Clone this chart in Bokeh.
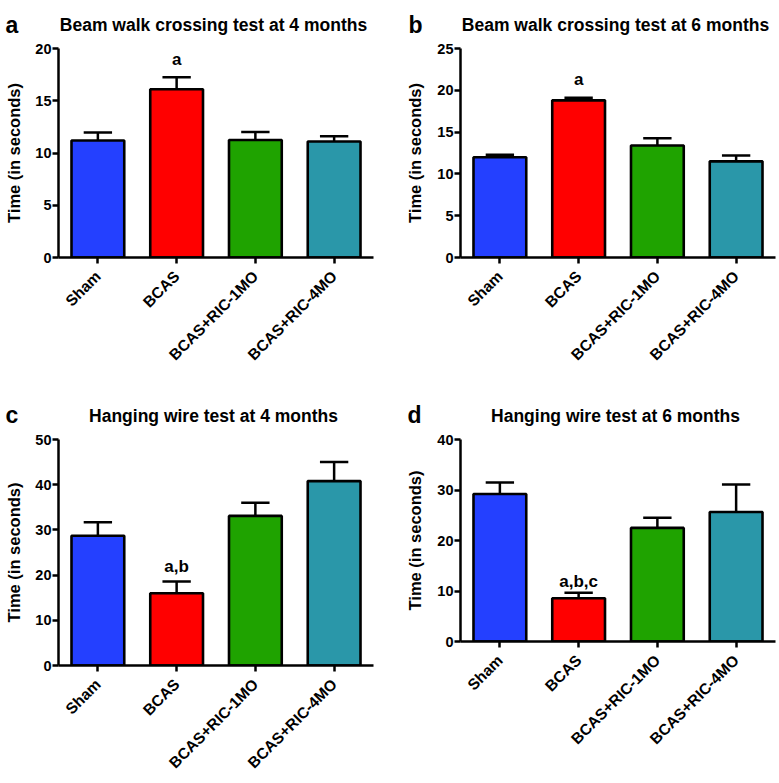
import math
from bokeh.plotting import figure
from bokeh.layouts import row, column
from bokeh.models import Range1d, FixedTicker, Label
from bokeh.embed import file_html
from bokeh.resources import INLINE

categories = ["Sham", "BCAS", "BCAS+RIC-1MO", "BCAS+RIC-4MO"]
colors = ["#2440FF", "#FF0000", "#1FA300", "#2A97A9"]

titles = ["Beam walk crossing test at 4 months", "Beam walk crossing test at 6 months",
          "Hanging wire test at 4 months", "Hanging wire test at 6 months"]
letters = ["a", "b", "c", "d"]
y_label = "Time (in seconds)"

mean_a = [11.2, 16.1, 11.25, 11.1]
sem_a = [0.75, 1.15, 0.75, 0.5]
mean_b = [12.0, 18.8, 13.4, 11.5]
sem_b = [0.3, 0.3, 0.85, 0.7]
mean_c = [28.7, 16.0, 33.1, 40.8]
sem_c = [3.0, 2.6, 2.9, 4.2]
mean_d = [29.2, 8.55, 22.5, 25.65]
sem_d = [2.3, 1.1, 2.0, 5.45]

y_max = [20, 25, 50, 40]
y_step = [5, 5, 10, 10]
sig_text = ["a", "a", "a,b", "a,b,c"]
sig_bar = [1, 1, 1, 1]
sig_y = [18.9, 21.3, 22.0, 11.9]

means = [mean_a, mean_b, mean_c, mean_d]
sems = [sem_a, sem_b, sem_c, sem_d]

FONT = "Liberation Sans"
HEADER_H = 36

# per panel layout (pixels)
layout = [
    dict(w=390, l=58, r=17, t=12, fh=209, b=133, ls=9, hx_title=213, hx_let=5, hb_title=24, hb_let=24),
    dict(w=389, l=70, r=4, t=12, fh=209, b=133, ls=10, hx_title=225, hx_let=18, hb_title=24, hb_let=24),
    dict(w=390, l=58, r=17, t=13, fh=226, b=118, ls=9, hx_title=213, hx_let=5, hb_title=25, hb_let=24),
    dict(w=389, l=70, r=4, t=10, fh=202, b=145, ls=10, hx_title=225, hx_let=17, hb_title=25, hb_let=24),
]


def header(k):
    L = layout[k]
    h = figure(width=L["w"], height=HEADER_H, x_range=Range1d(0, L["w"]),
               y_range=Range1d(HEADER_H, 0), x_axis_type=None, y_axis_type=None,
               min_border=0, output_backend="svg", toolbar_location=None)
    h.outline_line_color = None
    h.xgrid.visible = False
    h.ygrid.visible = False
    h.add_layout(Label(x=L["hx_title"], y=L["hb_title"], text=titles[k], text_align="center",
                       text_baseline="alphabetic", text_font=FONT, text_font_style="bold",
                       text_font_size="17.5px", text_color="black"))
    h.add_layout(Label(x=L["hx_let"], y=L["hb_let"], text=letters[k], text_align="left",
                       text_baseline="alphabetic", text_font=FONT, text_font_style="bold",
                       text_font_size="23px", text_color="black"))
    return h


def panel(k):
    L = layout[k]
    ym = y_max[k]
    xs = list(range(len(categories)))
    p = figure(frame_width=315, frame_height=L["fh"],
               x_range=Range1d(-0.5, len(categories) - 0.5), y_range=Range1d(0, ym),
               output_backend="svg", toolbar_location=None,
               min_border_left=L["l"], min_border_right=L["r"],
               min_border_top=L["t"], min_border_bottom=L["b"])
    p.outline_line_color = None
    p.xgrid.visible = False
    p.ygrid.visible = False

    m = means[k]
    s = sems[k]
    tops = [mi + si for mi, si in zip(m, s)]
    p.vbar(x=xs, top=m, width=0.67, fill_color=colors, line_color="black", line_width=2.6)
    p.segment(x0=xs, y0=m, x1=xs, y1=tops, line_color="black", line_width=2.5)
    p.segment(x0=[x - 0.18 for x in xs], y0=tops, x1=[x + 0.18 for x in xs], y1=tops,
              line_color="black", line_width=2.5)

    for ax in (p.xaxis[0], p.yaxis[0]):
        ax.axis_line_width = 2.5
        ax.axis_line_color = "black"
        ax.major_tick_line_width = 2.5
        ax.major_tick_line_color = "black"
        ax.major_tick_in = 0
        ax.major_tick_out = 6
        ax.minor_tick_line_color = None
        ax.major_label_text_font = FONT
        ax.major_label_text_font_style = "bold"
        ax.major_label_text_color = "black"
    p.xaxis.major_label_text_font_size = "15.5px"
    p.yaxis.major_label_text_font_size = "14.5px"
    p.yaxis.ticker = FixedTicker(ticks=list(range(0, ym + 1, y_step[k])))
    p.yaxis.major_label_standoff = 1
    p.yaxis.axis_label = y_label
    p.yaxis.axis_label_text_font = FONT
    p.yaxis.axis_label_text_font_style = "bold"
    p.yaxis.axis_label_text_font_size = "16.5px"
    p.yaxis.axis_label_text_line_height = 1.0
    p.yaxis.axis_label_text_color = "black"
    p.yaxis.axis_label_standoff = L["ls"]

    p.xaxis.ticker = FixedTicker(ticks=xs)
    p.xaxis.major_label_overrides = {i: c for i, c in enumerate(categories)}
    p.xaxis.major_label_orientation = math.pi / 4
    p.xaxis.major_label_standoff = 10

    p.add_layout(Label(x=xs[sig_bar[k]], y=sig_y[k], text=sig_text[k], text_align="center",
                       text_baseline="alphabetic", text_font=FONT, text_font_style="bold",
                       text_font_size="17px", text_color="black"))
    return p


heads = [header(k) for k in range(4)]
plots = [panel(k) for k in range(4)]

page = column(row(heads[0], heads[1]), row(plots[0], plots[1]),
              row(heads[2], heads[3]), row(plots[2], plots[3]))

open("out.html", "w").write(file_html(page, INLINE))
